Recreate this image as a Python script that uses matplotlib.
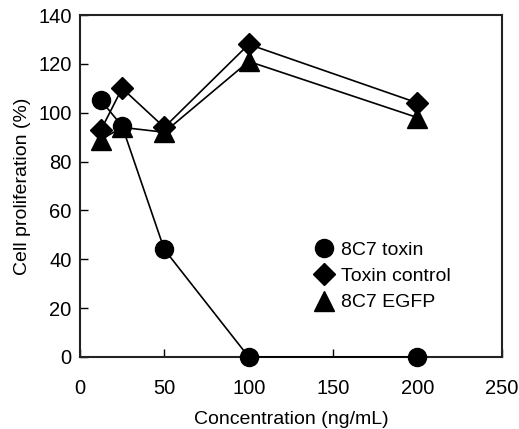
import matplotlib
matplotlib.use("Agg")
import matplotlib.pyplot as plt

plt.rcParams['font.family'] = ['Liberation Sans', 'DejaVu Sans']

conc = [12.5, 25, 50, 100, 200]
toxin_8c7 = [105, 94.5, 44, 0, 0]
toxin_control = [93, 110, 94, 128, 104]
egfp_8c7 = [89, 94, 92, 121, 98]

xticks = [0, 50, 100, 150, 200, 250]
yticks = [0, 20, 40, 60, 80, 100, 120, 140]

fig = plt.figure(figsize=(5.19, 4.29), dpi=100)
ax = fig.add_axes([0.154, 0.168, 0.813, 0.797])

ax.plot(conc, toxin_control, color='black', lw=1.2, marker='D', ms=11, label='Toxin control', zorder=3)
ax.plot(conc, egfp_8c7, color='black', lw=1.2, marker='^', ms=14, label='8C7 EGFP', zorder=3)
ax.plot(conc, toxin_8c7, color='black', lw=1.2, marker='o', ms=13, label='8C7 toxin', zorder=4, clip_on=False)

ax.set_xlim(0, 250)
ax.set_ylim(0, 140)
ax.set_xticks(xticks)
ax.set_yticks(yticks)
ax.tick_params(direction='in', length=6, width=1, labelsize=14.5)
ax.tick_params(axis='x', pad=16)
ax.tick_params(axis='y', pad=6)
for s in ax.spines.values():
    s.set_linewidth(1.5)
    s.set_color('#222222')

ax.set_xlabel('Concentration (ng/mL)', fontsize=14, labelpad=9)
ax.set_ylabel('Cell proliferation (%)', fontsize=14, labelpad=5)

handles, labels = ax.get_legend_handles_labels()
order = [2, 0, 1]
leg = ax.legend([handles[i] for i in order], [labels[i] for i in order],
                frameon=False, fontsize=14, loc='upper left',
                bbox_to_anchor=(0.538, 0.39), handlelength=0, handletextpad=0.85,
                labelspacing=0.45)
for h in leg.legend_handles:
    h.set_linestyle('none')

fig.savefig('out.png', dpi=100)
